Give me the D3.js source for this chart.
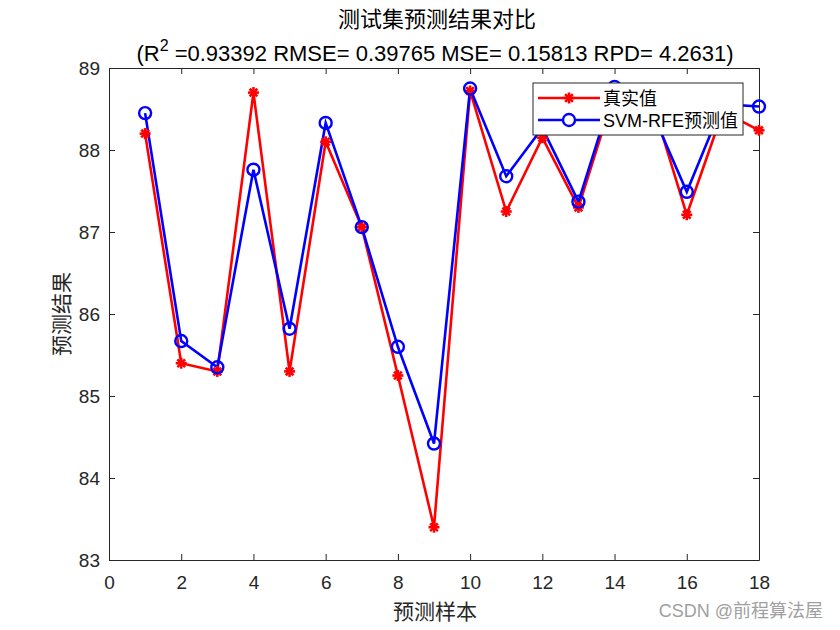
<!DOCTYPE html>
<html><head><meta charset="utf-8">
<script src="https://cdn.jsdelivr.net/npm/d3@7"></script>
<style>body{margin:0;background:#fff;} svg{display:block;}</style>
</head><body>
<script>
const samples = [1,2,3,4,5,6,7,8,9,10,11,12,13,14,15,16,17,18];
const trueVals = [88.2,85.4,85.3,88.7,85.3,88.1,87.06,85.25,83.4,88.72,87.25,88.15,87.3,88.7,88.65,87.21,88.47,88.24];
const predVals = [88.45,85.67,85.35,87.76,85.82,88.33,87.06,85.6,84.42,88.75,87.68,88.27,87.37,88.77,88.5,87.49,88.56,88.53];
const xTicks = [0,2,4,6,8,10,12,14,16,18];
const yTicks = [83,84,85,86,87,88,89];
const titleText = "测试集预测结果对比";
const metricsText = ["(R", "2", " =0.93392 RMSE= 0.39765 MSE= 0.15813 RPD= 4.2631)"];
const xLabel = "预测样本", yLabel = "预测结果";
const legendNames = ["真实值", "SVM-RFE预测值"];
const watermark = "CSDN @前程算法屋";

const W = 840, H = 630;
const m = {l:109, r:759, t:68, b:560};
const svg = d3.select("body").append("svg").attr("width", W).attr("height", H);
const x = d3.scaleLinear().domain([0,18]).range([m.l, m.r]);
const y = d3.scaleLinear().domain([83,89]).range([m.b, m.t]);
const axisCol = "#262626";
const sansFont = "Liberation Sans, Arial, sans-serif";
const cjkFont = "'Noto Sans CJK SC', sans-serif";

// axes (ticks inward, box)
const tk = 6;
const gx = svg.append("g").attr("transform", `translate(0,${m.b})`)
  .call(d3.axisBottom(x).tickValues(xTicks).tickFormat(d3.format("d")).tickSizeInner(-tk).tickSizeOuter(0).tickPadding(16));
const gxt = svg.append("g").attr("transform", `translate(0,${m.t})`)
  .call(d3.axisTop(x).tickValues(xTicks).tickSizeInner(-tk).tickSizeOuter(0).tickFormat(""));
const gy = svg.append("g").attr("transform", `translate(${m.l},0)`)
  .call(d3.axisLeft(y).tickValues(yTicks).tickFormat(d3.format("d")).tickSizeInner(-tk).tickSizeOuter(0).tickPadding(9));
const gyr = svg.append("g").attr("transform", `translate(${m.r},0)`)
  .call(d3.axisRight(y).tickValues(yTicks).tickSizeInner(-tk).tickSizeOuter(0).tickFormat(""));
[gx,gxt,gy,gyr].forEach(g => {
  g.selectAll("path").attr("stroke", axisCol).attr("stroke-width", 1);
  g.selectAll("line").attr("stroke", axisCol).attr("stroke-width", 1);
  g.selectAll("text").attr("fill", axisCol).attr("font-family", sansFont).attr("font-size", 19);
});

// lines
const line = d3.line().x((d,i)=>x(samples[i])).y(d=>y(d));
svg.append("path").datum(trueVals).attr("d", line).attr("fill","none").attr("stroke","#ff0000").attr("stroke-width",2.6);
svg.append("path").datum(predVals).attr("d", line).attr("fill","none").attr("stroke","#0000ff").attr("stroke-width",2.6);

function star(g, cx, cy, s, col){
  const r = s;
  const pts = [[-r,0,r,0],[0,-r,0,r],[-r*0.7,-r*0.7,r*0.7,r*0.7],[-r*0.7,r*0.7,r*0.7,-r*0.7]];
  pts.forEach(p => g.append("line").attr("x1",cx+p[0]).attr("y1",cy+p[1]).attr("x2",cx+p[2]).attr("y2",cy+p[3])
    .attr("stroke",col).attr("stroke-width",2.6));
}
const gs = svg.append("g");
trueVals.forEach((v,i)=>star(gs, x(samples[i]), y(v), 5.5, "#ff0000"));
svg.append("g").selectAll("circle").data(predVals).join("circle")
  .attr("cx",(d,i)=>x(samples[i])).attr("cy",d=>y(d)).attr("r",6)
  .attr("fill","none").attr("stroke","#0000ff").attr("stroke-width",2.4);

// legend
const lg = svg.append("g");
lg.append("rect").attr("x",533).attr("y",83).attr("width",210).attr("height",52)
  .attr("fill","#fff").attr("stroke",axisCol).attr("stroke-width",1);
const rows = [98,120];
lg.append("line").attr("x1",538).attr("x2",600).attr("y1",rows[0]).attr("y2",rows[0]).attr("stroke","#ff0000").attr("stroke-width",2.6);
star(lg, 569, rows[0], 5.5, "#ff0000");
lg.append("line").attr("x1",538).attr("x2",600).attr("y1",rows[1]).attr("y2",rows[1]).attr("stroke","#0000ff").attr("stroke-width",2.6);
lg.append("circle").attr("cx",569).attr("cy",rows[1]).attr("r",6).attr("fill","#fff").attr("stroke","#0000ff").attr("stroke-width",2.4);
legendNames.forEach((n,i)=>{
  lg.append("text").attr("x",603).attr("y",rows[i]+6.5).attr("font-size",18)
    .attr("font-family", sansFont + ", 'Noto Sans CJK SC'").attr("fill","#000").text(n);
});

// titles
svg.append("text").attr("x",437).attr("y",27).attr("text-anchor","middle")
  .attr("font-family",cjkFont).attr("font-size",22).attr("fill","#000").text(titleText);
const t2 = svg.append("text").attr("x",435).attr("y",61).attr("text-anchor","middle")
  .attr("font-family",sansFont).attr("font-size",22).attr("fill","#000");
t2.append("tspan").text(metricsText[0]);
t2.append("tspan").attr("dy",-10).attr("font-size",16).text(metricsText[1]);
t2.append("tspan").attr("dy",10).text(metricsText[2]);

svg.append("text").attr("x",435).attr("y",619).attr("text-anchor","middle")
  .attr("font-family",cjkFont).attr("font-size",21).attr("fill",axisCol).text(xLabel);
svg.append("text").attr("transform","translate(69,314) rotate(-90)").attr("text-anchor","middle")
  .attr("font-family",cjkFont).attr("font-size",21).attr("fill",axisCol).text(yLabel);

svg.append("text").attr("x",823).attr("y",617).attr("text-anchor","end")
  .attr("font-family",sansFont + ", 'Noto Sans CJK SC'").attr("font-size",18).attr("fill","#a0a0a0").text(watermark);
</script>
</body></html>
